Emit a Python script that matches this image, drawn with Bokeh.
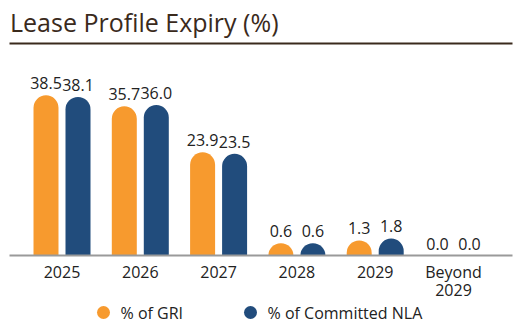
from bokeh.plotting import figure
from bokeh.models import Range1d
from bokeh.core.properties import value
from bokeh.embed import file_html
from bokeh.resources import INLINE

categories = ["2025", "2026", "2027", "2028", "2029", "Beyond\n2029"]
gri = [38.5, 35.7, 23.9, 0.6, 1.3, 0.0]
nla = [38.1, 36.0, 23.5, 0.6, 1.8, 0.0]
series_names = ["% of GRI", "% of Committed NLA"]
title_text = "Lease Profile Expiry (%)"

ORANGE = "#F79A2E"
NAVY = "#214C7C"
TEXT = "#222222"
BROWN = "#3A2A1C"
FONT = "Open Sans"

PX_X = 78.3            # pixels per category
PX_Y = 3.9             # pixels per percent
W, H = 530, 328
X0 = 61.5              # pixel of first category centre
Y0 = 255               # pixel (from top) of baseline

cap = 10 / PX_Y        # rounded-cap extra height in data units
off = 16 / PX_X        # half-distance between paired bars
bw = 25 / PX_X         # bar width

p = figure(width=W, height=H, output_backend="svg", toolbar_location=None,
           x_range=Range1d(-X0 / PX_X, (W - X0) / PX_X),
           y_range=Range1d(-(H - Y0) / PX_Y, Y0 / PX_Y),
           min_border=0, outline_line_color=None)
p.axis.visible = False
p.grid.visible = False
p.background_fill_color = "white"
p.border_fill_color = "white"

xs = list(range(len(categories)))

for vals, sgn, col in [(gri, -1, ORANGE), (nla, 1, NAVY)]:
    bx = [i + sgn * off for i, v in zip(xs, vals) if v > 0]
    bt = [v + cap for v in vals if v > 0]
    p.vbar(x=bx, top=bt, bottom=0, width=bw, fill_color=col, line_color=None,
           border_radius=(13, 13, 0, 0))
    lx = [i + sgn * off for i in xs]
    ly = [v + cap if v > 0 else 0 for v in vals]
    lt = [f"{v:.1f}" for v in vals]
    p.text(x=lx, y=ly, text=lt, text_align="center", text_baseline="middle",
           y_offset=-12, text_font=value(FONT), text_font_size="16px", text_color=TEXT)

# baseline axis
p.segment(x0=[xs[0] - 52.5 / PX_X], x1=[xs[-1] + 59 / PX_X], y0=[0], y1=[0],
          line_color="#9a9a9a", line_width=2)

# category labels (one text per line)
tx, ty, tt = [], [], []
for i, c in zip(xs, categories):
    for k, line in enumerate(c.split("\n")):
        tx.append(i)
        ty.append(-(16 + 18 * k) / PX_Y)
        tt.append(line)
p.text(x=tx, y=ty, text=tt, text_align="center", text_baseline="middle",
       text_font=value(FONT), text_font_size="16px", text_color=TEXT)

# title and underline
p.text(x=[xs[0] - 52 / PX_X], y=[(Y0 - 21) / PX_Y], text=[title_text],
       text_align="left", text_baseline="middle", text_font=value(FONT),
       text_font_size="25px", text_color=BROWN)
p.segment(x0=[xs[0] - 52.5 / PX_X], x1=[xs[-1] + 59 / PX_X],
          y0=[(Y0 - 43) / PX_Y], y1=[(Y0 - 43) / PX_Y], line_color=BROWN, line_width=2)

# legend
leg_y = -(312 - Y0) / PX_Y
leg_x = [(103 - X0) / PX_X, (250 - X0) / PX_X]
p.scatter(x=leg_x, y=[leg_y] * 2, size=13, marker="circle",
          fill_color=[ORANGE, NAVY], line_color=None)
p.text(x=[x + 17 / PX_X for x in leg_x], y=[leg_y] * 2, text=series_names,
       text_align="left", text_baseline="middle", text_font=value(FONT),
       text_font_size="16px", text_color=TEXT)

open("out.html", "w").write(file_html(p, INLINE))
